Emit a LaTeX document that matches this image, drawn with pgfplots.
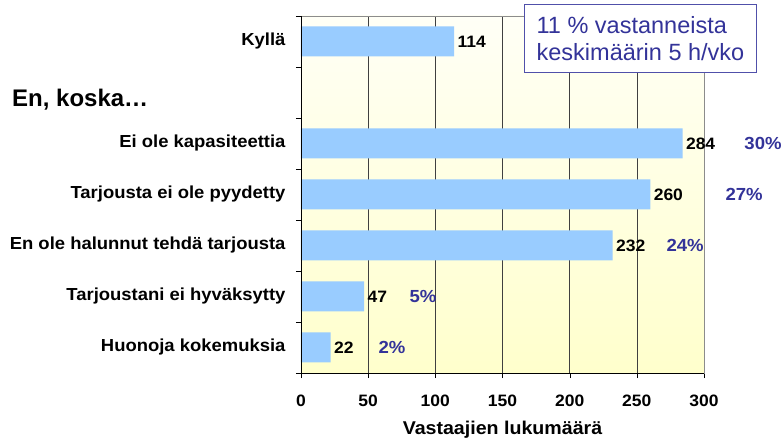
\documentclass[border=0pt]{standalone}
\usepackage{fontspec}
\setmainfont{Liberation Sans}
\newfontfamily\wide{Liberation Sans}[FakeStretch=1.06]
\usepackage{pgfplots}
\pgfplotsset{compat=1.18}
\definecolor{barblue}{RGB}{153,204,255}
\definecolor{pctblue}{RGB}{51,51,153}
\definecolor{boxline}{RGB}{80,80,170}
\definecolor{bgtop}{RGB}{255,255,246}
\definecolor{bgbot}{RGB}{255,255,204}
\newcommand{\fs}[1]{\fontsize{#1}{#1}\selectfont}

\begin{document}
\begin{tikzpicture}[x=1pt,y=1pt]
\begin{axis}[
    at={(0,0)}, anchor=south west,
    scale only axis, width=403pt, height=357pt,
    xbar, bar width=30pt,
    xmin=0, xmax=300, ymin=-0.5, ymax=6.5,
    xtick={0,50,...,300},
    ytick={0,...,6},
    yticklabels={Huonoja kokemuksia, Tarjoustani ei hyväksytty,
        En ole halunnut tehdä tarjousta, Tarjousta ei ole pyydetty,
        Ei ole kapasiteettia, {}, Kyllä},
    minor ytick={-0.5,0.5,...,6.5},
    tick align=outside,
    major tick length=5pt, minor tick length=5pt,
    xtick pos=left, ytick pos=left,
    major y tick style={draw=none},
    minor y tick style={black},
    major x tick style={black},
    xmajorgrids,
    major x grid style={black!75},
    axis line style={black!45},
    axis background/.style={top color=bgtop, bottom color=bgbot},
    /pgf/number format/assume math mode=true,
    xticklabel style={font=\wide\fs{16.5}\bfseries, yshift=-13pt},
    yticklabel style={font=\wide\fs{17.4}\bfseries, xshift=-7pt},
    xlabel={Vastaajien lukumäärä},
    xlabel style={font=\wide\fs{18.5}\bfseries, yshift=-8pt},
    clip=false,
]
\addplot[fill=barblue, draw=none,
    nodes near coords,
    nodes near coords style={font=\wide\fs{16.5}\bfseries, anchor=west, text=black}]
    coordinates {(22,0) (47,1) (232,2) (260,3) (284,4) (114,6)};

% percentages
\node[anchor=west, text=pctblue, font=\wide\fs{17.5}\bfseries] at (axis cs:327.5,4) {30\%};
\node[anchor=west, text=pctblue, font=\wide\fs{17.5}\bfseries] at (axis cs:313.4,3) {27\%};
\node[anchor=west, text=pctblue, font=\wide\fs{17.5}\bfseries] at (axis cs:269.5,2) {24\%};
\node[anchor=west, text=pctblue, font=\wide\fs{17.5}\bfseries] at (axis cs:78.2,1) {5\%};
\node[anchor=west, text=pctblue, font=\wide\fs{17.5}\bfseries] at (axis cs:55.1,0) {2\%};
\end{axis}

\draw[black] (0,357) -- (0,0) -- (403,0);

\node[anchor=west, font=\fs{24}\bfseries, inner sep=0pt] at (-289,273) {En, koska…};

\node[draw=boxline, fill=white, anchor=north west, minimum width=232pt,
      minimum height=68pt, align=left, text=pctblue, font=\fs{23.5},
      line width=1pt]
    at (223,369) {11 \% vastanneista\\[4pt]keskimäärin 5 h/vko};

\pgfresetboundingbox
\useasboundingbox (-301,-71) rectangle (481,373);
\end{tikzpicture}
\end{document}
